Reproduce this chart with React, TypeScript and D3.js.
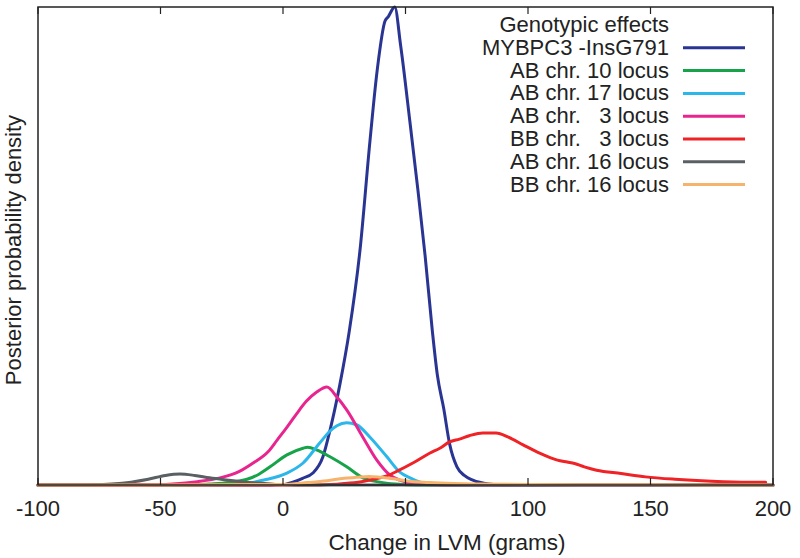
import React from "react";
import * as d3 from "d3";

// x values (grams) and relative density heights
const blueX = [-100, -5, 0, 4, 8, 12.2, 16.3, 19.2, 21, 23.2, 27, 31.4, 35.5, 38.5, 41.6, 43, 45.6, 48, 51.8, 55, 58, 61, 63, 65.6, 68, 71, 74, 77.5, 84, 90, 200];
const blueY = [0, 0, 0.1, 0.6, 1.4, 2.5, 5.9, 11.5, 15.5, 21, 32, 49, 72, 87, 97, 98, 100, 92, 76, 62, 48, 32, 23, 16, 8.6, 3.8, 2.0, 1.0, 0.2, 0, 0];

const greenX = [-100, -40, -30, -22, -14.7, -10, -5.3, 1.6, 8.2, 10, 13.9, 19.2, 26, 32.6, 39.5, 46, 55, 200];
const greenY = [0, 0, 0.2, 0.5, 1.2, 2.2, 3.8, 6.3, 7.7, 7.9, 7.3, 5.9, 3.8, 1.5, 0.6, 0.2, 0, 0];

const cyanX = [-100, -25, -15, -8.2, 1.6, 8.2, 15, 19.2, 22, 26, 30, 35.5, 42.4, 47.7, 51.8, 56, 62, 70, 200];
const cyanY = [0, 0, 0.3, 1.0, 2.5, 4.6, 8.8, 11.3, 12.4, 13.0, 12.6, 10, 5.9, 2.7, 1.5, 0.6, 0.2, 0, 0];

const magentaX = [-100, -55, -45, -35, -25.7, -18, -12.2, -6, -2.4, 1.5, 5.7, 9.5, 13.9, 17.9, 22, 26, 32.6, 38.3, 43.6, 47.7, 52, 58, 65, 200];
const magentaY = [0, 0, 0.2, 0.7, 1.5, 2.8, 4.6, 7.0, 9.4, 12, 15, 17.5, 19.5, 20.5, 18.4, 15.7, 10, 5.2, 2.1, 1.0, 0.4, 0.1, 0, 0];

const redX = [-100, 15, 25, 32, 38, 42.4, 47, 53, 60, 64, 68, 72, 76, 81.5, 87, 92, 98, 105, 112, 116, 119, 123, 128, 138, 148, 160, 175, 190, 197];
const redY = [0, 0, 0.3, 0.7, 1.3, 1.9, 3.0, 4.6, 6.7, 7.7, 9.0, 9.6, 10.3, 10.9, 10.9, 10.0, 8.4, 6.6, 5.2, 4.8, 4.5, 3.8, 3.1, 2.4, 1.7, 1.2, 0.8, 0.6, 0.6];

const grayX = [-100, -80, -70, -62, -55, -48, -42, -36, -30, -24, -17, -10, -3, 5, 200];
const grayY = [0, 0, 0.2, 0.6, 1.2, 2.0, 2.3, 2.0, 1.5, 1.1, 0.7, 0.4, 0.1, 0, 0];

const orangeX = [-100, 0, 10, 18, 25, 30, 35, 40, 45, 50, 60, 70, 80, 100, 150, 200];
const orangeY = [0, 0.1, 0.5, 0.9, 1.4, 1.6, 1.8, 1.6, 1.3, 0.9, 0.5, 0.3, 0.2, 0.1, 0.05, 0];

const seriesNames = [
  "MYBPC3 -InsG791",
  "AB chr. 10 locus",
  "AB chr. 17 locus",
  "AB chr.   3 locus",
  "BB chr.   3 locus",
  "AB chr. 16 locus",
  "BB chr. 16 locus",
];
const seriesColors = ["#2a3593", "#17a34a", "#2bb7ea", "#e8258f", "#ef2226", "#5a5f63", "#f6b36c"];
const seriesX = [blueX, greenX, cyanX, magentaX, redX, grayX, orangeX];
const seriesY = [blueY, greenY, cyanY, magentaY, redY, grayY, orangeY];

const xTicks = [-100, -50, 0, 50, 100, 150, 200];
const legendTitle = "Genotypic effects";

export default function App() {
  const W = 800, H = 558;
  const left = 38, right = 773, top = 7, bottom = 485;
  const x = d3.scaleLinear().domain([-100, 200]).range([left, right]);
  const y = d3.scaleLinear().domain([0, 100]).range([bottom, top]);
  const line = d3
    .line<[number, number]>()
    .x((d) => x(d[0]))
    .y((d) => y(d[1]))
    .curve(d3.curveMonotoneX);
  const font = "'Liberation Sans', Arial, Helvetica, sans-serif";
  const legRight = 669;
  const legY0 = 32;
  const legDy = 22.8;

  return (
    <svg
      width={W}
      height={H}
      style={{ position: "absolute", left: 0, top: 0, background: "#fff" }}
      fontFamily={font}
    >
      <rect x={0} y={0} width={W} height={H} fill="#fff" />
      <g fill="none" strokeLinejoin="round" strokeLinecap="round">
        {seriesX.map((xs, i) => (
          <path
            key={i}
            d={line(xs.map((v, j) => [v, seriesY[i][j]]) as [number, number][]) || ""}
            stroke={seriesColors[i]}
            strokeWidth={3}
          />
        ))}
      </g>
      <rect x={left} y={top} width={right - left} height={bottom - top} fill="none" stroke="#222" strokeWidth={1.5} />
      {xTicks.map((t) => (
        <g key={t}>
          <line x1={x(t)} x2={x(t)} y1={bottom} y2={bottom - 7} stroke="#222" strokeWidth={1.2} />
          <line x1={x(t)} x2={x(t)} y1={top} y2={top + 7} stroke="#222" strokeWidth={1.2} />
          <text x={x(t)} y={516} textAnchor="middle" fontSize={22} fill="#222">
            {t}
          </text>
        </g>
      ))}
      <text x={447} y={550} textAnchor="middle" fontSize={22.5} fill="#222">
        Change in LVM (grams)
      </text>
      <text
        transform={`translate(21,250) rotate(-90)`}
        textAnchor="middle"
        fontSize={22}
        fill="#222"
      >
        Posterior probability density
      </text>
      <text x={legRight} y={legY0} textAnchor="end" fontSize={22} fill="#222">
        {legendTitle}
      </text>
      {seriesNames.map((name, i) => {
        const by = legY0 + legDy * (i + 1);
        return (
          <g key={name}>
            <text x={legRight} y={by} textAnchor="end" fontSize={22} fill="#222" style={{ whiteSpace: "pre" }}>
              {name}
            </text>
            <line x1={683} x2={745} y1={by - 7} y2={by - 7} stroke={seriesColors[i]} strokeWidth={3} />
          </g>
        );
      })}
    </svg>
  );
}
